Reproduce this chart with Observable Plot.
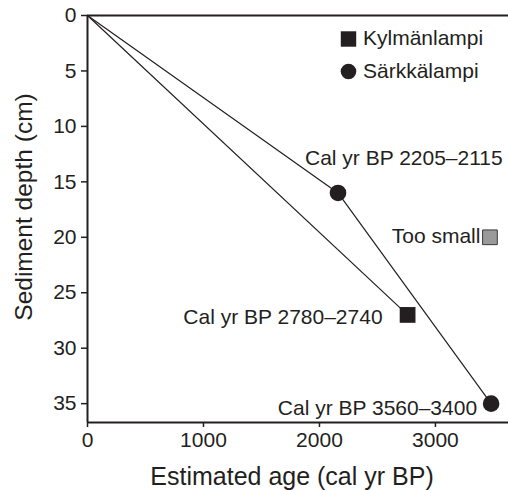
<!DOCTYPE html>
<html>
<head>
<meta charset="utf-8">
<script src="https://cdn.jsdelivr.net/npm/d3@7"></script>
<script src="https://cdn.jsdelivr.net/npm/@observablehq/plot@0.6"></script>
<style>
  body { margin: 0; background: #fff; }
  #chart svg { display: block; }
</style>
</head>
<body>
<div id="chart"></div>
<script>
// Lakes shown in the legend
const lakes = ["Kylmänlampi", "Särkkälampi"];

// Radiocarbon-dated samples: lake, depth (cm) and calibrated age range (cal yr BP)
const sampleLake = ["Särkkälampi", "Kylmänlampi", "Särkkälampi"];
const sampleDepth = [16, 27, 35];
const sampleAgeOld = [2205, 2780, 3560];
const sampleAgeYoung = [2115, 2740, 3400];

// Sample that was too small to be dated
const smallDepth = [20];
const smallAge = [3470];

// Axis ticks
const xTicks = [0, 1000, 2000, 3000];
const yTicks = [0, 5, 10, 15, 20, 25, 30, 35];

const ink = "#231f20";
const font = "'Liberation Sans', Arial, Helvetica, sans-serif";

const samples = sampleLake.map((lake, i) => ({
  lake,
  depth: sampleDepth[i],
  age: (sampleAgeOld[i] + sampleAgeYoung[i]) / 2,
  label: `Cal yr BP ${sampleAgeOld[i]}–${sampleAgeYoung[i]}`
}));

// Each age-depth line starts at the sediment surface (0 cm, 0 cal yr BP)
const lineData = lakes.flatMap(lake => [
  {lake, age: 0, depth: 0},
  ...samples.filter(s => s.lake === lake).sort((a, b) => a.depth - b.depth)
]);

const small = smallAge.map((age, i) => ({age, depth: smallDepth[i], label: "Too small"}));

// Label placement for each dated sample
const labelOffsets = [
  {dx: -33, dy: -35, anchor: "start"},
  {dx: -25, dy: 2, anchor: "end"},
  {dx: -14, dy: 5, anchor: "end"}
];

const isSquare = d => d.lake === "Kylmänlampi";

const chart = Plot.plot({
  width: 508,
  height: 490,
  marginLeft: 87,
  marginRight: 0,
  marginTop: 15,
  marginBottom: 68,
  style: {fontFamily: font, fontSize: "21px", color: ink, background: "#fff"},
  x: {domain: [0, 3630]},
  y: {domain: [0, 36.7], reverse: true},
  marks: [
    // frame: left, top and bottom
    Plot.ruleX([0], {stroke: ink, strokeWidth: 2}),
    Plot.ruleY([0, 36.7], {stroke: ink, strokeWidth: 2}),
    Plot.axisX({ticks: xTicks, tickFormat: d3.format("d"), tickSize: 5, tickPadding: 5, fontSize: 21, stroke: ink, strokeWidth: 1.5, fill: ink, label: null}),
    Plot.axisY({ticks: yTicks, tickFormat: d3.format("d"), tickSize: 6, tickPadding: 5, fontSize: 21, stroke: ink, strokeWidth: 1.5, fill: ink, label: null}),
    // age-depth lines
    Plot.line(lineData, {x: "age", y: "depth", z: "lake", stroke: ink, strokeWidth: 1.2}),
    // dated samples
    Plot.dot(samples.filter(isSquare), {x: "age", y: "depth", symbol: "square", r: 8.9, fill: ink, stroke: null}),
    Plot.dot(samples.filter(d => !isSquare(d)), {x: "age", y: "depth", symbol: "circle", r: 8.3, fill: ink, stroke: null}),
    ...samples.map((s, i) => Plot.text([s], {
      x: "age", y: "depth", text: "label",
      dx: labelOffsets[i].dx, dy: labelOffsets[i].dy,
      textAnchor: labelOffsets[i].anchor, lineAnchor: "middle",
      fontSize: 21, fill: ink
    })),
    // undated sample
    Plot.dot(small, {x: "age", y: "depth", symbol: "square", r: 8.3, fill: "#9a9a9a", stroke: "#3a3a3a", strokeWidth: 1}),
    Plot.text(small, {x: "age", y: "depth", text: "label", dx: -9.5, dy: -1, textAnchor: "end", lineAnchor: "middle", fontSize: 21, fill: ink}),
    // legend
    Plot.dot([lakes[0]], {frameAnchor: "top-left", dx: 261, dy: 23.5, symbol: "square", r: 8.7, fill: ink}),
    Plot.dot([lakes[1]], {frameAnchor: "top-left", dx: 261, dy: 56, symbol: "circle", r: 7.8, fill: ink}),
    Plot.text([lakes[0]], {frameAnchor: "top-left", dx: 275.5, dy: 23, text: d => d, textAnchor: "start", lineAnchor: "middle", fontSize: 21, fill: ink}),
    Plot.text([lakes[1]], {frameAnchor: "top-left", dx: 275.5, dy: 56, text: d => d, textAnchor: "start", lineAnchor: "middle", fontSize: 21, fill: ink}),
    // axis titles
    Plot.text(["Estimated age (cal yr BP)"], {frameAnchor: "bottom", dx: -6, dy: 54, text: d => d, textAnchor: "middle", lineAnchor: "middle", fontSize: 25, fill: ink}),
    Plot.text(["Sediment depth (cm)"], {frameAnchor: "left", dx: -63, dy: -12, rotate: -90, text: d => d, textAnchor: "middle", lineAnchor: "middle", fontSize: 24.5, fill: ink})
  ]
});

document.getElementById("chart").appendChild(chart);
</script>
</body>
</html>
